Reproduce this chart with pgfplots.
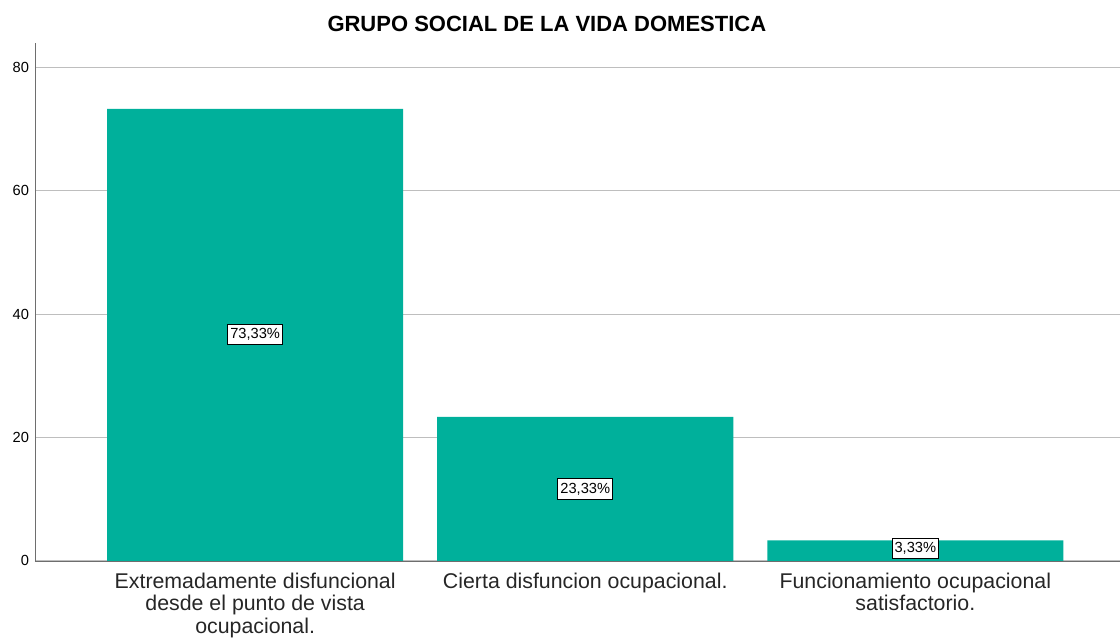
\documentclass[border=0pt]{standalone}
\usepackage{pgfplots}
\pgfplotsset{compat=1.18}
\usepackage{fontspec}
\setmainfont{Liberation Sans}
\definecolor{barteal}{RGB}{0,176,155}
\definecolor{gridgray}{RGB}{190,190,190}
\definecolor{axisgray}{RGB}{110,110,110}
\begin{document}
\begin{tikzpicture}
\begin{axis}[
  scale only axis,
  width=814pt, height=388.5pt,
  xmin=-0.667, xmax=2.62,
  ymin=0, ymax=84,
  axis x line*=bottom, axis y line*=left,
  axis line style={axisgray, -},
  ytick={0,20,40,60,80},
  ymajorgrids, grid style={gridgray, line width=0.7pt},
  yticklabel style={font=\fontsize{11}{13}\selectfont, xshift=-1pt},
  /pgf/number format/assume math mode=true,
  major tick length=0pt,
  xtick={0,1,2},
  xticklabels={Extremadamente disfuncional\\desde el punto de vista\\ocupacional.,
    Cierta disfuncion ocupacional.,
    Funcionamiento ocupacional\\satisfactorio.},
  xticklabel style={font=\fontsize{16}{16.8}\selectfont, align=center, text=black!85, yshift=-5.5pt},
  title={\bfseries GRUPO SOCIAL DE LA VIDA DOMESTICA},
  title style={font=\fontsize{16.5}{18}\selectfont, at={(0.5,1)}, anchor=center,
    yshift=8.5pt, xshift=-23pt},
  clip=false,
]
\addplot[ybar, bar width=0.897, fill=barteal, draw=none]
  coordinates {(0,73.33) (1,23.33) (2,3.33)};
\addplot[draw=none, mark=none, point meta=explicit symbolic,
  nodes near coords, nodes near coords align={center},
  every node near coord/.append style={draw=black, fill=white, line width=0.6pt,
    inner xsep=2pt, inner ysep=3pt, font=\fontsize{11}{13}\selectfont, anchor=center}]
  coordinates {(0,36.67) [73,33\%] (1,11.67) [23,33\%] (2,1.95) [3,33\%]};
\end{axis}
\pgfresetboundingbox
\path[use as bounding box] ([xshift=-26.25pt, yshift=-58.5pt]current axis.south west)
  rectangle ([yshift=32.25pt]current axis.north east);
\end{tikzpicture}
\end{document}
